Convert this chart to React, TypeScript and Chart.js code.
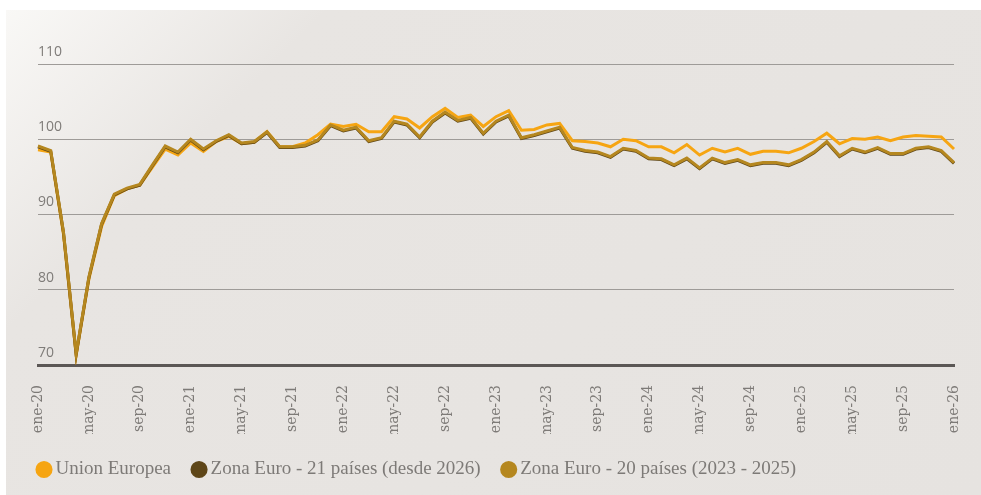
import React, { useEffect, useRef } from 'react';
import { Chart, registerables } from 'chart.js';

Chart.register(...registerables);

const MONTHS = ['ene', 'feb', 'mar', 'abr', 'may', 'jun', 'jul', 'ago', 'sep', 'oct', 'nov', 'dic'];
const YEARS = ['20', '21', '22', '23', '24', '25', '26'];
const categories: string[] = [];
YEARS.forEach((y) => MONTHS.forEach((m) => categories.push(`${m}-${y}`)));
const labels = categories.slice(0, 73);

const yTicks = [70, 80, 90, 100, 110];

const unionEuropea = [
  98.6, 98.3, 87.4, 71.3, 81.4, 88.4, 92.5, 93.4, 93.9, 96.3, 98.7, 97.9,
  99.5, 98.4, 99.7, 100.4, 99.4, 99.6, 101.0, 99.0, 99.0, 99.5, 100.6, 102.0,
  101.7, 102.0, 101.0, 101.0, 103.0, 102.7, 101.5, 103.0, 104.1, 102.9, 103.2, 101.7,
  103.0, 103.8, 101.2, 101.3, 101.9, 102.1, 99.8, 99.7, 99.5, 99.0, 100.0, 99.8,
  99.0, 99.0, 98.2, 99.3, 97.9, 98.8, 98.3, 98.8, 98.0, 98.4, 98.4, 98.2,
  98.8, 99.7, 100.8, 99.4, 100.1, 100.0, 100.3, 99.8, 100.3, 100.5, 100.4, 100.3,
  98.7,
];

const zonaEuro21 = [
  99.0, 98.4, 87.6, 71.4, 81.6, 88.7, 92.6, 93.4, 93.9, 96.5, 99.0, 98.2,
  99.9, 98.6, 99.7, 100.5, 99.4, 99.6, 100.9, 98.9, 98.9, 99.1, 99.8, 101.8,
  101.1, 101.5, 99.7, 100.1, 102.3, 101.9, 100.2, 102.3, 103.5, 102.4, 102.8, 100.7,
  102.3, 103.1, 100.1, 100.5, 101.0, 101.5, 98.8, 98.4, 98.2, 97.6, 98.7, 98.4,
  97.4, 97.3, 96.5, 97.4, 96.1, 97.4, 96.8, 97.2, 96.5, 96.8, 96.8, 96.5,
  97.2, 98.2, 99.6, 97.7, 98.7, 98.2, 98.8, 98.0, 98.0, 98.7, 98.9, 98.4,
  96.8,
];

const zonaEuro20 = [
  99.1, 98.5, 87.7, 71.5, 81.7, 88.8, 92.7, 93.5, 94.0, 96.6, 99.1, 98.3,
  100.0, 98.7, 99.8, 100.6, 99.5, 99.7, 101.0, 99.0, 99.0, 99.2, 99.9, 101.9,
  101.2, 101.6, 99.8, 100.2, 102.4, 102.0, 100.3, 102.4, 103.6, 102.5, 102.9, 100.8,
  102.4, 103.2, 100.2, 100.6, 101.1, 101.6, 98.9, 98.5, 98.3, 97.7, 98.8, 98.5,
  97.5, 97.4, 96.6, 97.5, 96.2, 97.5, 96.9, 97.3, 96.6, 96.9, 96.9, 96.6,
  97.3, 98.3, 99.7, 97.8, 98.8, 98.3, 98.9, 98.1, 98.1, 98.8, 99.0, 98.5,
  96.9,
];

const seriesNames = [
  'Union Europea',
  'Zona Euro - 21 países (desde 2026)',
  'Zona Euro - 20 países (2023 - 2025)',
];
const seriesColors = ['#F6A512', '#5E4618', '#B5871F'];

export default function App() {
  const canvasRef = useRef<HTMLCanvasElement | null>(null);

  useEffect(() => {
    document.body.style.overflow = 'hidden';
    const canvas = canvasRef.current;
    if (!canvas) return;
    const chart = new Chart(canvas, {
      type: 'line',
      data: {
        labels,
        datasets: [
          {
            label: seriesNames[0],
            data: unionEuropea,
            borderColor: seriesColors[0],
            backgroundColor: seriesColors[0],
            borderWidth: 3,
            pointRadius: 0,
            tension: 0,
            order: 2,
          },
          {
            label: seriesNames[1],
            data: zonaEuro21,
            borderColor: seriesColors[1],
            backgroundColor: seriesColors[1],
            borderWidth: 3,
            pointRadius: 0,
            tension: 0,
            order: 1,
          },
          {
            label: seriesNames[2],
            data: zonaEuro20,
            borderColor: seriesColors[2],
            backgroundColor: seriesColors[2],
            borderWidth: 3,
            pointRadius: 0,
            tension: 0,
            order: 0,
          },
        ],
      },
      options: {
        animation: false,
        responsive: false,
        maintainAspectRatio: false,
        layout: { padding: { left: 10, right: 27, top: 54, bottom: 6 } },
        plugins: {
          tooltip: { enabled: false },
          legend: {
            position: 'bottom',
            align: 'start',
            labels: {
              usePointStyle: true,
              pointStyle: 'circle',
              boxWidth: 4,
              boxHeight: 10,
              padding: 26,
              color: '#7d7a77',
              font: { family: 'Liberation Serif', size: 19 },
              sort: (a: any, b: any) => a.datasetIndex - b.datasetIndex,
            },
          },
        },
        scales: {
          x: {
            type: 'category',
            offset: false,
            grid: { display: false, drawTicks: false },
            border: { display: true, color: '#5b5755', width: 3 },
            ticks: {
              autoSkip: false,
              maxRotation: 90,
              minRotation: 90,
              padding: 20,
              color: '#7d7a77',
              font: { family: 'DejaVu Serif', size: 14 },
              callback: (_v: any, i: number) => (i % 4 === 0 ? labels[i] : null),
            },
            afterFit: (s: any) => {
              s.height = 69;
              s.paddingRight = 0;
              s.paddingLeft = 0;
            },
          },
          y: {
            min: yTicks[0],
            max: yTicks[yTicks.length - 1],
            afterBuildTicks: (s: any) => {
              s.ticks = yTicks.map((v) => ({ value: v }));
            },
            afterFit: (s: any) => {
              s.width = 22;
            },
            grid: { color: '#9e9b98', lineWidth: 1, drawTicks: false },
            border: { display: false },
            ticks: {
              mirror: true,
              padding: 0,
              labelOffset: -12,
              color: '#7f7c79',
              font: { family: 'Open Sans', size: 14 },
            },
          },
        },
      },
    });
    return () => chart.destroy();
  }, []);

  return (
    <div
      style={{
        position: 'absolute',
        left: 6,
        top: 10,
        width: 975,
        height: 485,
        background: 'linear-gradient(135deg, #f9f8f6 0%, #e8e5e2 22%, #e6e3e0 100%)',
      }}
    >
      <canvas ref={canvasRef} width={975} height={485} style={{ display: 'block', width: 975, height: 485 }} />
    </div>
  );
}
